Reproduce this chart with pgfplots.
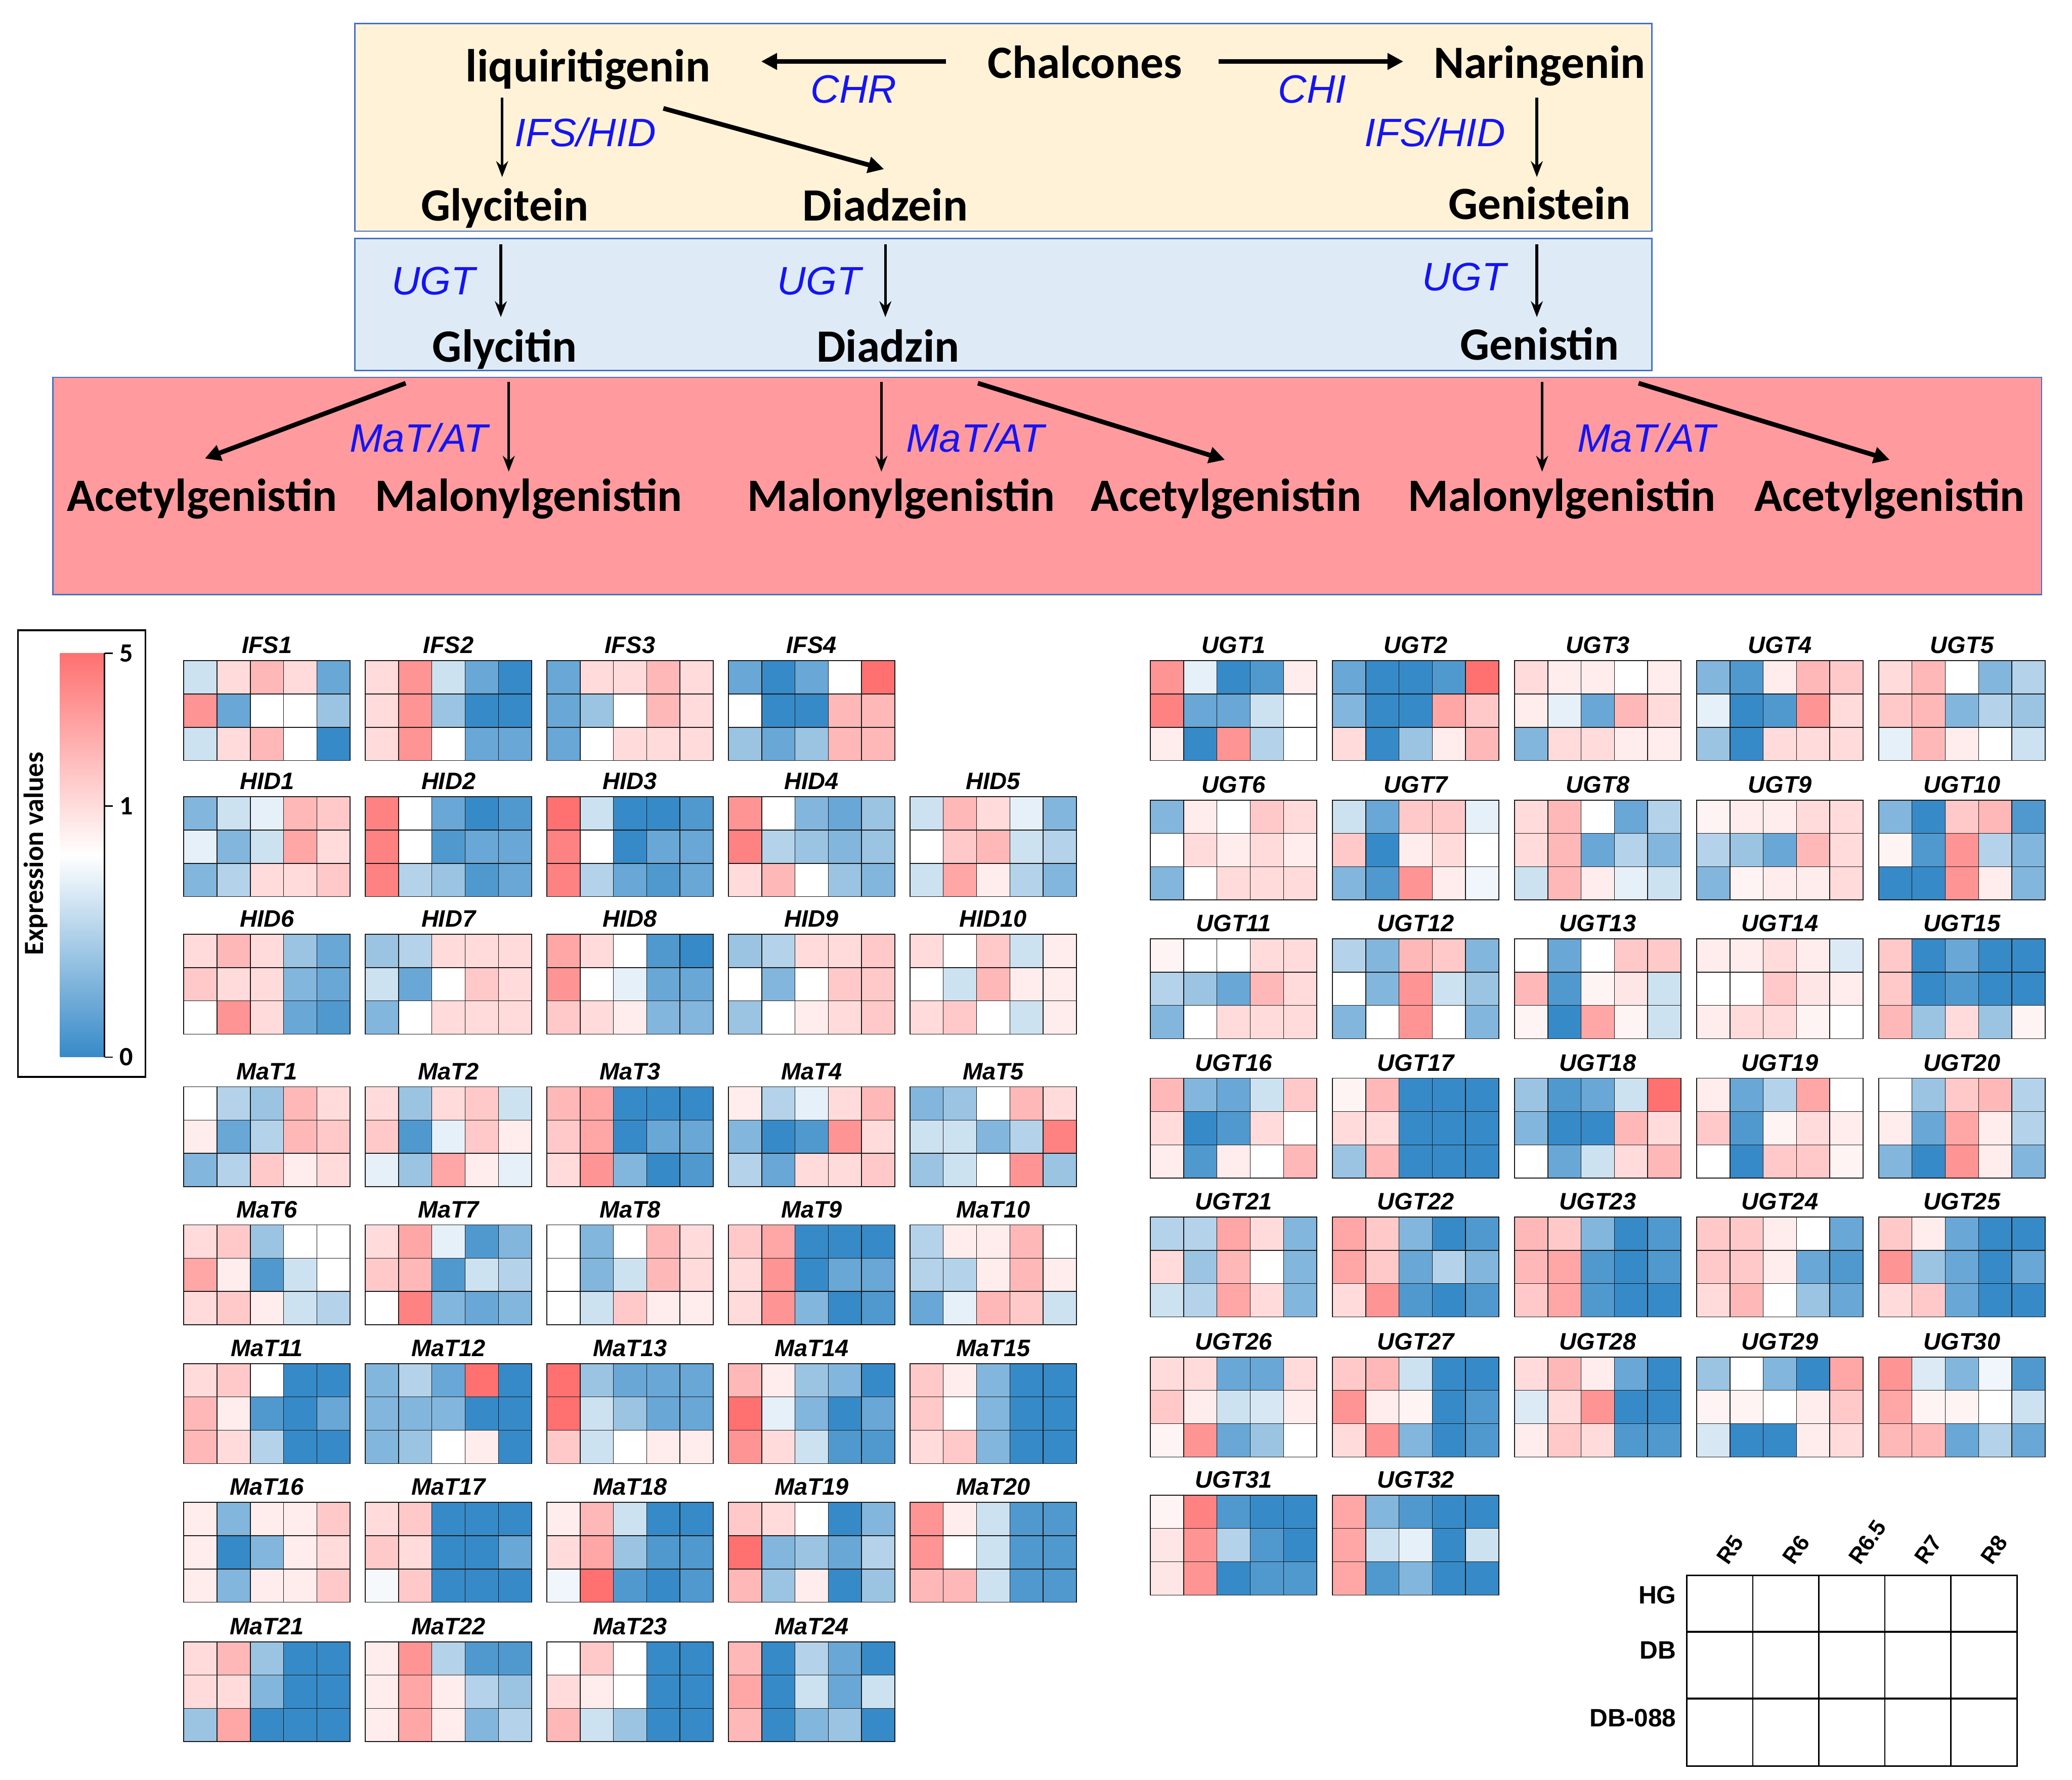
\documentclass[border=0pt]{standalone}
\usepackage{fontspec}
\setmainfont{Liberation Sans}
\newfontfamily\cali{Carlito}
\usepackage{pgfplots}
\pgfplotsset{compat=1.18}
\usetikzlibrary{arrows.meta}

\definecolor{hmblue}{RGB}{55,138,200}
\definecolor{hmred}{RGB}{255,112,112}
\definecolor{boxline}{RGB}{68,114,196}
\definecolor{boxyel}{RGB}{255,242,214}
\definecolor{boxblu}{RGB}{222,235,247}
\definecolor{boxred}{RGB}{255,155,158}
\definecolor{enzblue}{RGB}{20,20,245}

% one 3x5 heatmap: x0, y0 (top left), title, 15 values row by row (-4 blue ... 0 white ... 4 red)
\newcommand{\hm}[4]{%
  \addplot[scatter, only marks, mark=square*, mark size=12.6pt, line width=0.6pt,
    scatter/use mapped color={draw=black!90, fill=mapped color}, point meta=explicit]
    table[header=false, row sep=\\, meta index=0,
      x expr={#1+12.6+25.2*mod(\coordindex,5)},
      y expr={#2+12.6+25.2*floor(\coordindex/5)}] {#4};
  \node[font=\bfseries\itshape\fontsize{18}{20}\selectfont, anchor=base]
    at ([xshift=63pt, yshift=5.5pt]axis cs:#1,#2) {#3};
}
\newcommand{\met}[3]{\node[font=\cali\bfseries\fontsize{35}{40}\selectfont, anchor=base] at (axis cs:#1,#2) {#3};}
\newcommand{\enz}[3]{\node[font=\itshape\fontsize{30}{34}\selectfont, text=enzblue, anchor=base] at (axis cs:#1,#2) {#3};}

\begin{document}
\begin{tikzpicture}
\begin{axis}[x=1pt, y=1pt, y dir=reverse,
  xmin=0, xmax=1568, ymin=0, ymax=1347,
  hide axis, clip=false,
  colormap={hm}{rgb255(0cm)=(55,138,200); rgb255(1cm)=(255,255,255); rgb255(2cm)=(255,112,112)},
  point meta min=-4, point meta max=4]

\path (axis cs:0,0) rectangle (axis cs:1568,1347);

% pathway boxes
\filldraw[fill=boxyel, draw=boxline, line width=1pt] (axis cs:268.5,17.7) rectangle (axis cs:1250,175);
\filldraw[fill=boxblu, draw=boxline, line width=1pt] (axis cs:268.5,180.5) rectangle (axis cs:1250,280.5);
\filldraw[fill=boxred, draw=boxline, line width=1pt] (axis cs:40,285.5) rectangle (axis cs:1545,450);

\met{445}{62}{liquiritigenin}
\met{821}{59}{Chalcones}
\met{1165}{59}{Naringenin}
\met{382}{167}{Glycitein}
\met{670}{167}{Diadzein}
\met{1165}{166}{Genistein}
\met{382}{274}{Glycitin}
\met{672}{274}{Diadzin}
\met{1165}{272.5}{Genistin}
\met{153}{387}{Acetylgenistin}
\met{400}{387}{Malonylgenistin}
\met{682}{387}{Malonylgenistin}
\met{928}{387}{Acetylgenistin}
\met{1182}{387}{Malonylgenistin}
\met{1430}{387}{Acetylgenistin}

\enz{646}{78}{CHR}
\enz{993}{78}{CHI}
\enz{443}{111}{IFS/HID}
\enz{1086}{111}{IFS/HID}
\enz{328}{223}{UGT}
\enz{620}{223}{UGT}
\enz{1108}{220}{UGT}
\enz{317}{342}{MaT/AT}
\enz{738}{342}{MaT/AT}
\enz{1246}{342}{MaT/AT}

\begin{scope}[line width=3.5pt, -{Triangle[length=12pt,width=12pt]}]
\draw (axis cs:716,46.5) -- (axis cs:576,46.5);
\draw (axis cs:922,46.5) -- (axis cs:1062,46.5);
\draw (axis cs:502,82) -- (axis cs:669,128);
\draw (axis cs:307,290) -- (axis cs:155,347);
\draw (axis cs:740,290) -- (axis cs:927,348);
\draw (axis cs:1240,290) -- (axis cs:1430,348);
\end{scope}
\begin{scope}[line width=2pt, -{Stealth[length=12pt,width=9pt]}]
\draw (axis cs:380,74) -- (axis cs:380,134);
\draw (axis cs:1163,74) -- (axis cs:1163,134);
\draw (axis cs:379,185) -- (axis cs:379,240);
\draw (axis cs:670,185) -- (axis cs:670,240);
\draw (axis cs:1163,185) -- (axis cs:1163,240);
\draw (axis cs:385,289) -- (axis cs:385,357);
\draw (axis cs:667,289) -- (axis cs:667,357);
\draw (axis cs:1167,289) -- (axis cs:1167,357);
\end{scope}

% colour bar
\draw[line width=1.3pt] (axis cs:13.5,477) rectangle (axis cs:110,815);
\shade[top color=hmred, bottom color=hmblue, middle color=white] (axis cs:45.4,494.3) rectangle (axis cs:79.1,800);
\draw[line width=1pt] (axis cs:79.1,494.3) -- (axis cs:79.1,800);
\draw[line width=1pt] (axis cs:79.1,494.3) -- (axis cs:85.5,494.3);
\draw[line width=1pt] (axis cs:79.1,610) -- (axis cs:85.5,610);
\draw[line width=1pt] (axis cs:79.1,800) -- (axis cs:85.5,800);
\node[font=\cali\bfseries\fontsize{20}{22}\selectfont, anchor=west] at (axis cs:87,494.3) {5};
\node[font=\cali\bfseries\fontsize{20}{22}\selectfont, anchor=west] at (axis cs:87,610) {1};
\node[font=\cali\bfseries\fontsize{20}{22}\selectfont, anchor=west] at (axis cs:87,800) {0};
\node[font=\cali\bfseries\fontsize{21}{24}\selectfont, rotate=90] at (axis cs:27,646) {Expression values};

% IFS
\hm{139}{500}{IFS1}{-1\\1\\2\\1\\-3\\ 3\\-3\\0\\0\\-2\\ -1\\1\\2\\0\\-4\\}
\hm{276.4}{500}{IFS2}{1\\3\\-1\\-3\\-4\\ 1\\3\\-2\\-4\\-4\\ 1\\3\\0\\-3\\-3\\}
\hm{413.8}{500}{IFS3}{-3\\1\\1\\2\\1\\ -3\\-2\\0\\2\\1\\ -3\\0\\1\\1\\1\\}
\hm{551.2}{500}{IFS4}{-3\\-4\\-3\\0\\4\\ 0\\-4\\-4\\2\\2\\ -2\\-3\\-2\\2\\2\\}
% HID
\hm{139}{603}{HID1}{-2.5\\-1\\-0.5\\2\\1.5\\ -0.5\\-2.5\\-1\\2.5\\1\\ -2.5\\-1.5\\1\\1\\1.5\\}
\hm{276.4}{603}{HID2}{3.5\\0\\-3\\-4\\-3.5\\ 3.5\\0\\-3.5\\-3\\-3\\ 3.5\\-1.5\\-2\\-3.5\\-3\\}
\hm{413.8}{603}{HID3}{4\\-1\\-4\\-4\\-3.5\\ 3.5\\0\\-4\\-3\\-3\\ 3.5\\-1.5\\-3\\-3.5\\-3\\}
\hm{551.2}{603}{HID4}{3\\0\\-2.5\\-3\\-2\\ 3.5\\-1.5\\-2\\-2.5\\-2\\ 1\\2\\0\\-2\\-2.5\\}
\hm{688.6}{603}{HID5}{-1\\2\\1\\-0.5\\-2.5\\ 0\\1.5\\2\\-1\\-1.5\\ -1\\2.5\\0.5\\-1.5\\-2.5\\}
\hm{139}{707}{HID6}{1\\2\\1\\-2\\-3\\ 1.5\\1\\1\\-2.5\\-3\\ 0\\3\\1\\-3\\-3.5\\}
\hm{276.4}{707}{HID7}{-2\\-1.5\\1\\1\\1\\ -1\\-3\\0\\1.5\\1\\ -2.5\\0\\1\\1\\1\\}
\hm{413.8}{707}{HID8}{2.5\\1\\0\\-3.5\\-4\\ 3\\0\\-0.5\\-3\\-3\\ 1.5\\1\\0.5\\-2.5\\-2.5\\}
\hm{551.2}{707}{HID9}{-2\\-1.5\\1\\1\\1.5\\ 0\\-2.5\\0\\1.5\\1.5\\ -2\\0\\0.5\\1\\1.5\\}
\hm{688.6}{707}{HID10}{1\\0\\1.5\\-1\\0.5\\ 0\\-1\\2\\0.5\\0.5\\ 1\\1.5\\0\\-1\\0.5\\}
% MaT
\hm{139}{822.5}{MaT1}{0\\-1.5\\-2\\2\\1\\ 0.5\\-3\\-1.5\\2\\1.5\\ -2.5\\-1.5\\1.5\\0.5\\1\\}
\hm{276.4}{822.5}{MaT2}{1\\-2\\1\\1.5\\-1\\ 1.5\\-3.5\\-0.5\\1.5\\0.5\\ -0.5\\-2\\2.5\\0.5\\-0.5\\}
\hm{413.8}{822.5}{MaT3}{2\\2.5\\-4\\-4\\-4\\ 1.5\\2.5\\-4\\-3\\-3\\ 1\\3\\-2.5\\-4\\-3.5\\}
\hm{551.2}{822.5}{MaT4}{0.5\\-1.5\\-0.5\\1\\2\\ -2.5\\-4\\-3.5\\3\\1\\ -1.5\\-3\\1\\1\\1.5\\}
\hm{688.6}{822.5}{MaT5}{-2.5\\-2\\0\\2\\1\\ -1\\-1\\-2.5\\-1.5\\3.5\\ -2\\-1\\0\\3\\-2\\}
\hm{139}{927}{MaT6}{1\\1.5\\-2\\0\\0\\ 2.5\\0.5\\-3.5\\-1\\0\\ 1\\1.5\\0.5\\-1\\-1.5\\}
\hm{276.4}{927}{MaT7}{1\\2.5\\-0.5\\-3.5\\-2.5\\ 1.5\\2\\-3.5\\-1\\-1.5\\ 0\\3.5\\-2.5\\-3\\-2.5\\}
\hm{413.8}{927}{MaT8}{0\\-2.5\\0\\2\\1\\ 0\\-2.5\\-1\\2\\1\\ 0\\-1\\1.5\\0.5\\0.5\\}
\hm{551.2}{927}{MaT9}{1.5\\2.5\\-4\\-4\\-4\\ 1\\3\\-4\\-3\\-3\\ 1\\3\\-2.5\\-4\\-3.5\\}
\hm{688.6}{927}{MaT10}{-1.5\\0.5\\0.5\\2\\0\\ -1.5\\-1.5\\0.5\\2\\0.5\\ -3\\-0.5\\2\\1.5\\-1\\}
\hm{139}{1032}{MaT11}{1\\1.5\\0\\-4\\-4\\ 2\\0.5\\-3.5\\-4\\-3\\ 2\\1\\-1.5\\-4\\-4\\}
\hm{276.4}{1032}{MaT12}{-2.5\\-1.5\\-3\\4\\-4\\ -2.5\\-2.5\\-2.5\\-4\\-4\\ -2.5\\-2\\0\\0.5\\-4\\}
\hm{413.8}{1032}{MaT13}{4\\-2\\-3\\-3\\-3\\ 4\\-1\\-2\\-3\\-3\\ 1.5\\-1\\0\\0.5\\0.5\\}
\hm{551.2}{1032}{MaT14}{2\\0.5\\-2\\-2.5\\-4\\ 4\\-0.5\\-2.5\\-4\\-3\\ 3\\1\\-1\\-3.5\\-3.5\\}
\hm{688.6}{1032}{MaT15}{1.5\\0.5\\-2.5\\-4\\-4\\ 1.5\\0\\-2.5\\-4\\-4\\ 1\\1.5\\-2.5\\-4\\-4\\}
\hm{139}{1137}{MaT16}{0.5\\-2.5\\0.5\\0.5\\1.5\\ 0.5\\-4\\-2.5\\0.5\\1\\ 0.5\\-2.5\\0.5\\0.5\\1.5\\}
\hm{276.4}{1137}{MaT17}{1\\1.5\\-4\\-4\\-4\\ 1.5\\1\\-4\\-4\\-3\\ -0.2\\1.5\\-4\\-4\\-4\\}
\hm{413.8}{1137}{MaT18}{0.5\\2\\-1\\-4\\-4\\ 1\\2.5\\-2\\-3.5\\-3.5\\ -0.3\\4\\-3.5\\-4\\-3.5\\}
\hm{551.2}{1137}{MaT19}{1.5\\1\\0\\-4\\-2.5\\ 4\\-2.5\\-2\\-3\\-1.5\\ 2\\-2\\0.5\\-4\\-2\\}
\hm{688.6}{1137}{MaT20}{3\\0.5\\-1\\-3.5\\-3.5\\ 3\\0\\-1\\-3.5\\-3.5\\ 2\\2\\-1\\-3.5\\-3.5\\}
\hm{139}{1242.5}{MaT21}{1\\2\\-2\\-4\\-4\\ 1\\1\\-2.5\\-4\\-4\\ -2\\2.5\\-4\\-4\\-4\\}
\hm{276.4}{1242.5}{MaT22}{0.5\\3\\-1.5\\-3.5\\-3.5\\ 0.5\\2.5\\0.5\\-1.5\\-2\\ 0.5\\2.5\\0.5\\-2.5\\-1.5\\}
\hm{413.8}{1242.5}{MaT23}{0\\1.5\\0\\-4\\-4\\ 1\\0.5\\0\\-4\\-4\\ 2\\-1\\-2\\-4\\-4\\}
\hm{551.2}{1242.5}{MaT24}{2\\-4\\-1.5\\-3\\-4\\ 2.5\\-4\\-1\\-3\\-1\\ 2\\-4\\-2.5\\-2\\-4\\}
% UGT
\hm{870.5}{500}{UGT1}{3\\-0.5\\-4\\-3.5\\0.5\\ 3.5\\-3\\-3\\-1\\0\\ 0.5\\-4\\3\\-1.5\\0\\}
\hm{1008.3}{500}{UGT2}{-3\\-4\\-4\\-3.5\\4\\ -2.5\\-4\\-4\\2.5\\1.5\\ 1\\-4\\-2\\0.5\\2\\}
\hm{1146.1}{500}{UGT3}{1\\0.5\\0.5\\0\\0.5\\ 0.5\\-0.5\\-3\\2\\1\\ -2.5\\1\\1\\0.5\\0.5\\}
\hm{1283.9}{500}{UGT4}{-2.5\\-3.5\\0.5\\2\\1.5\\ -0.5\\-4\\-3.5\\3\\1\\ -2\\-4\\1\\1\\1\\}
\hm{1421.7}{500}{UGT5}{1\\2\\0\\-2.5\\-1.5\\ 1.5\\2\\-2.5\\-1.5\\-2\\ -0.5\\2\\0.5\\0\\-1\\}
\hm{870.5}{605.5}{UGT6}{-2.5\\0.5\\0\\1.5\\1\\ 0\\1\\0.5\\1\\0.5\\ -2.5\\0\\1\\1\\1\\}
\hm{1008.3}{605.5}{UGT7}{-1\\-3\\1.5\\1.5\\-0.5\\ 1.5\\-4\\0.5\\1\\0\\ -2.5\\-3.5\\3\\0.5\\-0.3\\}
\hm{1146.1}{605.5}{UGT8}{1\\2\\0\\-3\\-1.5\\ 1\\2\\-3\\-1.5\\-2.5\\ -1\\2\\0.5\\-0.5\\-1\\}
\hm{1283.9}{605.5}{UGT9}{0.3\\0.5\\0.5\\1\\1\\ -1.5\\-2\\-3\\2\\1\\ -2.5\\0.3\\0.5\\0.5\\1\\}
\hm{1421.7}{605.5}{UGT10}{-2.5\\-4\\1.5\\2\\-3.5\\ 0.3\\-3.5\\3\\-1.5\\-2.5\\ -4\\-4\\3\\0.5\\-2.5\\}
\hm{870.5}{710.5}{UGT11}{0.3\\0\\0\\1\\1\\ -1.5\\-2\\-3\\2\\1\\ -2.5\\0\\1\\1\\1\\}
\hm{1008.3}{710.5}{UGT12}{-1.5\\-2.5\\2\\1.5\\-2.5\\ 0\\-2.5\\3\\-1\\-2\\ -2.5\\0\\3\\0\\-2.5\\}
\hm{1146.1}{710.5}{UGT13}{0\\-3\\0\\1.5\\1.5\\ 2\\-3.5\\0.3\\0.7\\-1\\ 0.3\\-4\\2.5\\0.3\\-1\\}
\hm{1283.9}{710.5}{UGT14}{0.5\\0.5\\1\\0.5\\-0.7\\ 0\\0\\1.5\\0.7\\0.5\\ 0.5\\1\\1\\0.3\\0\\}
\hm{1421.7}{710.5}{UGT15}{1.5\\-4\\-3\\-4\\-4\\ 1.5\\-4\\-3.5\\-4\\-4\\ 2\\-2\\1\\-2\\0.3\\}
\hm{870.5}{816}{UGT16}{2\\-2.5\\-3\\-1\\1.5\\ 1\\-4\\-3.5\\1\\0\\ 0.5\\-3.5\\0.5\\0\\2\\}
\hm{1008.3}{816}{UGT17}{0.3\\2\\-4\\-4\\-4\\ 1\\1\\-4\\-4\\-4\\ -2\\2\\-4\\-4\\-4\\}
\hm{1146.1}{816}{UGT18}{-2\\-3.5\\-3\\-1\\4\\ -2.5\\-4\\-4\\2\\1\\ 0\\-3\\-1\\1\\2\\}
\hm{1283.9}{816}{UGT19}{0.5\\-3\\-1.5\\2.5\\0\\ 1.5\\-3.5\\0.3\\1\\0.5\\ 0\\-4\\1.5\\1.5\\0.3\\}
\hm{1421.7}{816}{UGT20}{0\\-2\\1.5\\2\\-1.5\\ 0.5\\-3\\2.5\\0.5\\-1.5\\ -2.5\\-4\\3\\0.5\\-2.5\\}
\hm{870.5}{921}{UGT21}{-1.5\\-1.5\\2.5\\1\\-2.5\\ 1\\-2\\2\\0\\-2.5\\ -1\\-1.5\\2.5\\1\\-2.5\\}
\hm{1008.3}{921}{UGT22}{2.5\\1.5\\-2.5\\-4\\-3.5\\ 2.5\\1.5\\-3\\-1.5\\-2.5\\ 1\\3\\-3.5\\-4\\-3.5\\}
\hm{1146.1}{921}{UGT23}{2\\1.5\\-2.5\\-4\\-3.5\\ 2\\2.5\\-3.5\\-4\\-3.5\\ 1.5\\2.5\\-3.5\\-4\\-4\\}
\hm{1283.9}{921}{UGT24}{1.5\\1.5\\0.5\\0\\-3\\ 1.5\\1.5\\0.5\\-3\\-3.5\\ 1\\2\\0\\-2\\-3\\}
\hm{1421.7}{921}{UGT25}{1.5\\0.5\\-3\\-4\\-4\\ 3\\-2\\-3\\-4\\-3\\ 1\\1.5\\-3\\-4\\-4\\}
\hm{870.5}{1027}{UGT26}{1\\1\\-3\\-3\\1\\ 1.5\\0.5\\-1\\-0.8\\0.5\\ 0.3\\3\\-3\\-2\\0\\}
\hm{1008.3}{1027}{UGT27}{1.5\\2\\-1\\-4\\-4\\ 3\\0.5\\0.3\\-4\\-3.5\\ 1\\3\\-2.5\\-4\\-3.5\\}
\hm{1146.1}{1027}{UGT28}{1\\2\\0.5\\-3\\-4\\ -0.7\\1\\3\\-4\\-4\\ 0.5\\1.5\\1\\-3.5\\-3.5\\}
\hm{1283.9}{1027}{UGT29}{-2\\0\\-2.5\\-4\\2.5\\ 0.3\\0.3\\0\\0.5\\1.5\\ -0.8\\-4\\-4\\0.5\\1\\}
\hm{1421.7}{1027}{UGT30}{3\\-0.7\\-2.5\\-0.3\\-3.5\\ 2.5\\0.3\\0.3\\0\\-1\\ 2\\2\\-3\\-1.5\\-3\\}
\hm{870.5}{1131.5}{UGT31}{0.3\\3.5\\-3.5\\-4\\-4\\ 0.7\\3\\-1.5\\-3.5\\-4\\ 0.7\\3\\-4\\-3.5\\-3.5\\}
\hm{1008.3}{1131.5}{UGT32}{2.5\\-2.5\\-3.5\\-4\\-4\\ 2.5\\-1\\-0.5\\-4\\-1\\ 2.5\\-3.5\\-2.5\\-4\\-4\\}

% layout key
\draw[line width=1.2pt] (axis cs:1276.4,1192.2) rectangle (axis cs:1526.3,1336.6);
\draw[line width=1pt] (axis cs:1326.4,1192.2) -- (axis cs:1326.4,1336.6);
\draw[line width=1pt] (axis cs:1376.4,1192.2) -- (axis cs:1376.4,1336.6);
\draw[line width=1pt] (axis cs:1426.4,1192.2) -- (axis cs:1426.4,1336.6);
\draw[line width=1pt] (axis cs:1476.4,1192.2) -- (axis cs:1476.4,1336.6);
\draw[line width=1.6pt] (axis cs:1276.4,1235) -- (axis cs:1526.3,1235);
\draw[line width=1.6pt] (axis cs:1276.4,1285.4) -- (axis cs:1526.3,1285.4);
\node[font=\bfseries\fontsize{19}{21}\selectfont, anchor=east] at (axis cs:1272,1207) {HG};
\node[font=\bfseries\fontsize{19}{21}\selectfont, anchor=east] at (axis cs:1272,1249) {DB};
\node[font=\bfseries\fontsize{19}{21}\selectfont, anchor=east] at (axis cs:1272,1300) {DB-088};
\node[font=\bfseries\fontsize{17}{19}\selectfont, anchor=base west, rotate=55, inner sep=1pt] at (axis cs:1307,1186) {R5};
\node[font=\bfseries\fontsize{17}{19}\selectfont, anchor=base west, rotate=55, inner sep=1pt] at (axis cs:1357,1186) {R6};
\node[font=\bfseries\fontsize{17}{19}\selectfont, anchor=base west, rotate=55, inner sep=1pt] at (axis cs:1407,1186) {R6.5};
\node[font=\bfseries\fontsize{17}{19}\selectfont, anchor=base west, rotate=55, inner sep=1pt] at (axis cs:1457,1186) {R7};
\node[font=\bfseries\fontsize{17}{19}\selectfont, anchor=base west, rotate=55, inner sep=1pt] at (axis cs:1507,1186) {R8};

\end{axis}
\end{tikzpicture}
\end{document}
